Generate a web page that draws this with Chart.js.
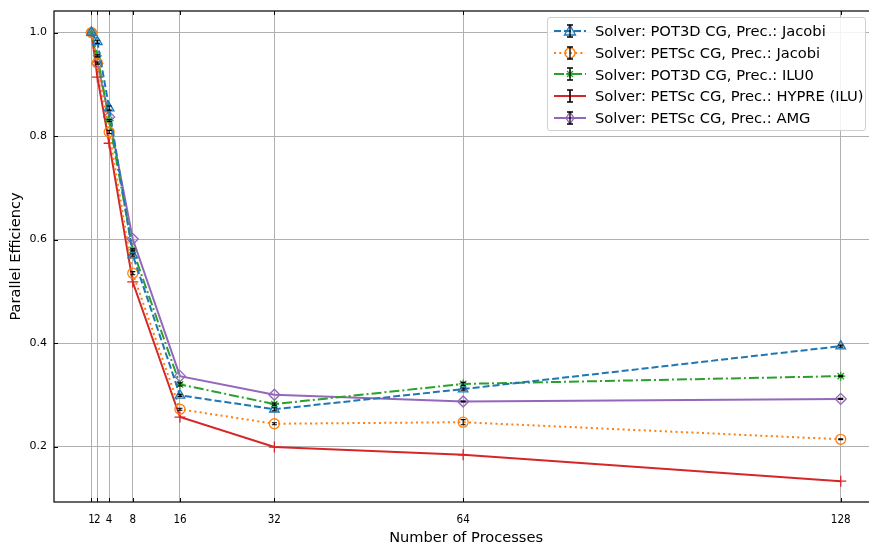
<!DOCTYPE html>
<html>
<head>
<meta charset="utf-8">
<script src="https://cdn.jsdelivr.net/npm/chart.js@4.4.0/dist/chart.umd.min.js"></script>
<style>
  html, body { margin: 0; padding: 0; background: #fff; }
  #wrap { position: relative; width: 869px; height: 545px; overflow: hidden; }
  #chart { position: absolute; left: 0; top: 0; }
  #legend {
    position: absolute; left: 547px; top: 17px; width: 319px; height: 114px;
    box-sizing: border-box; border: 1px solid #d0d0d0; border-radius: 3px;
    background: rgba(255,255,255,0.85);
    font-family: "DejaVu Sans", sans-serif; font-size: 14.7px; color: #000;
    padding-top: 2px;
  }
  .row { display: flex; align-items: center; height: 21.7px; white-space: nowrap; }
  .row svg { margin-left: 4px; margin-right: 7px; flex: none; }
</style>
</head>
<body>
<div id="wrap">
  <canvas id="chart" width="885" height="545"></canvas>
  <div id="legend"></div>
</div>
<script>
const procs = [1, 2, 4, 8, 16, 32, 64, 128];
const xTicks = [1, 2, 4, 8, 16, 32, 64, 128];
const yTicks = [0.2, 0.4, 0.6, 0.8, 1.0];

const labels = [
  'Solver: POT3D CG, Prec.: Jacobi',
  'Solver: PETSc CG, Prec.: Jacobi',
  'Solver: POT3D CG, Prec.: ILU0',
  'Solver: PETSc CG, Prec.: HYPRE (ILU)',
  'Solver: PETSc CG, Prec.: AMG',
];

const pot3dJacobi = [1.0, 0.982, 0.854, 0.570, 0.299, 0.272, 0.311, 0.394];
const petscJacobi = [1.0, 0.941, 0.808, 0.535, 0.272, 0.244, 0.247, 0.214];
const pot3dIlu0   = [1.0, 0.955, 0.830, 0.580, 0.320, 0.282, 0.321, 0.336];
const petscHypre  = [1.0, 0.914, 0.786, 0.518, 0.257, 0.199, 0.184, 0.133];
const petscAmg    = [1.0, 0.940, 0.837, 0.601, 0.336, 0.300, 0.287, 0.292];

// small standard deviations shown as black error bars
const errPot3dJacobi = [0, 0.003, 0.004, 0.002, 0.002, 0.003, 0.002, 0.002];
const errPetscJacobi = [0, 0.002, 0.003, 0.003, 0.002, 0.002, 0.005, 0.001];
const errPot3dIlu0   = [0, 0.002, 0.002, 0.002, 0.003, 0.002, 0.003, 0.001];
const errPetscHypre  = [0, 0, 0, 0, 0, 0, 0, 0];
const errPetscAmg    = [0, 0, 0, 0, 0, 0, 0.001, 0.001];

const styles = [
  { color: '#1f77b4', fill: 'rgba(31,119,180,0.15)', dash: [7, 3], marker: 'triangle', r: 5.5 },
  { color: '#ff7f0e', fill: 'rgba(255,255,255,0)', dash: [2, 3.3], marker: 'circle', r: 5 },
  { color: '#2ca02c', fill: 'rgba(44,160,44,0.15)', dash: [10, 3, 2, 3], marker: 'star', r: 4.5 },
  { color: '#d62728', fill: 'rgba(214,39,40,0)', dash: [], marker: 'cross', r: 5.5 },
  { color: '#9467bd', fill: 'rgba(148,103,189,0.1)', dash: [], marker: 'rectRot', r: 5.5 },
];

const series = [pot3dJacobi, petscJacobi, pot3dIlu0, petscHypre, petscAmg];
const errors = [errPot3dJacobi, errPetscJacobi, errPot3dIlu0, errPetscHypre, errPetscAmg];

const datasets = series.map((vals, i) => ({
  label: labels[i],
  data: procs.map((p, j) => ({ x: p, y: vals[j] })),
  borderColor: styles[i].color,
  backgroundColor: styles[i].fill,
  borderDash: styles[i].dash,
  borderWidth: 2,
  pointStyle: styles[i].marker,
  pointRadius: styles[i].r,
  pointBorderWidth: 1.3,
  pointBorderColor: styles[i].color,
  pointBackgroundColor: styles[i].fill,
  tension: 0,
  fill: false,
}));

const frame = {
  id: 'frame',
  afterDatasetsDraw(chart) {
    const { ctx, chartArea: a, scales } = chart;
    ctx.save();
    // error bars
    ctx.strokeStyle = '#000';
    ctx.lineWidth = 1.1;
    series.forEach((vals, i) => {
      procs.forEach((p, j) => {
        if (!errors[i][j]) return;
        const x = scales.x.getPixelForValue(p);
        const y1 = scales.y.getPixelForValue(vals[j] - errors[i][j]);
        const y2 = scales.y.getPixelForValue(vals[j] + errors[i][j]);
        ctx.beginPath();
        ctx.moveTo(x, y1); ctx.lineTo(x, y2);
        ctx.moveTo(x - 2.5, y1); ctx.lineTo(x + 2.5, y1);
        ctx.moveTo(x - 2.5, y2); ctx.lineTo(x + 2.5, y2);
        ctx.stroke();
      });
    });
    // inward ticks
    ctx.lineWidth = 1;
    xTicks.forEach(t => {
      const x = Math.round(scales.x.getPixelForValue(t)) + 0.5;
      ctx.beginPath(); ctx.moveTo(x, a.bottom); ctx.lineTo(x, a.bottom - 4); ctx.stroke();
      ctx.beginPath(); ctx.moveTo(x, a.top); ctx.lineTo(x, a.top + 4); ctx.stroke();
    });
    yTicks.forEach(t => {
      const y = Math.round(scales.y.getPixelForValue(t)) + 0.5;
      ctx.beginPath(); ctx.moveTo(a.left, y); ctx.lineTo(a.left + 4, y); ctx.stroke();
      ctx.beginPath(); ctx.moveTo(a.right, y); ctx.lineTo(a.right - 4, y); ctx.stroke();
    });
    ctx.lineWidth = 1.2;
    ctx.strokeRect(a.left, a.top, a.right - a.left, a.bottom - a.top);
    ctx.restore();
  }
};

new Chart(document.getElementById('chart').getContext('2d'), {
  type: 'line',
  data: { datasets },
  options: {
    responsive: false,
    animation: false,
    layout: { padding: { top: 11, right: 0, left: 0, bottom: 0 } },
    plugins: { legend: { display: false }, tooltip: { enabled: false } },
    scales: {
      x: {
        type: 'linear',
        min: -5.35,
        max: 134.35,
        afterBuildTicks: s => { s.ticks = xTicks.map(v => ({ value: v })); },
        afterFit: s => { s.height = 43; s.paddingLeft = 0; s.paddingRight = 0; },
        ticks: {
          autoSkip: false, maxRotation: 0, padding: 11, color: '#000',
          font: { family: 'DejaVu Sans Condensed', size: 11.5 },
          callback: v => String(v),
        },
        grid: { color: '#b0b0b0', lineWidth: 1, drawTicks: false },
        border: { display: false },
        title: {
          display: true, text: 'Number of Processes', color: '#000',
          font: { family: 'DejaVu Sans', size: 14.6 }, padding: { top: 0, bottom: -2 },
        },
      },
      y: {
        min: 0.0928,
        max: 1.0416,
        afterBuildTicks: s => { s.ticks = yTicks.map(v => ({ value: v })); },
        afterFit: s => { s.width = 54; s.paddingTop = 0; s.paddingBottom = 0; },
        ticks: {
          padding: 7, color: '#000',
          font: { family: 'DejaVu Sans', size: 11 },
          callback: v => v.toFixed(1),
        },
        grid: { color: '#b0b0b0', lineWidth: 1, drawTicks: false },
        border: { display: false },
        title: {
          display: true, text: 'Parallel Efficiency', color: '#000',
          font: { family: 'DejaVu Sans', size: 14.6 }, padding: { top: 7, bottom: 4 },
        },
      },
    },
  },
  plugins: [frame],
});

// legend
function markerSvg(s) {
  const c = s.color, f = s.fill;
  if (s.marker === 'triangle') return `<polygon points="20,5 25.5,15 14.5,15" stroke="${c}" fill="${f}" stroke-width="1.3"/>`;
  if (s.marker === 'circle') return `<circle cx="20" cy="11" r="5" stroke="${c}" fill="none" stroke-width="1.5"/>`;
  if (s.marker === 'star') return `<path d="M20 7 L20 15 M16 11 L24 11 M17 8 L23 14 M23 8 L17 14" stroke="${c}" stroke-width="1.3"/>`;
  if (s.marker === 'cross') return `<path d="M20 5 L20 17 M14 11 L26 11" stroke="${c}" stroke-width="1.5"/>`;
  return `<polygon points="20,5 24,11 20,17 16,11" stroke="${c}" fill="${f}" stroke-width="1.3"/>`;
}
document.getElementById('legend').innerHTML = labels.map((lab, i) => {
  const s = styles[i];
  const dash = s.dash.length ? `stroke-dasharray="${s.dash.join(' ')}"` : '';
  return `<div class="row"><svg width="36" height="22" viewBox="2 0 36 22">
    <line x1="4" y1="11" x2="36" y2="11" stroke="${s.color}" stroke-width="2" ${dash}/>
    ${markerSvg(s)}
    <path d="M20 5 L20 17 M17 5 L23 5 M17 17 L23 17" stroke="#000" stroke-width="1.3"/>
  </svg><span>${lab}</span></div>`;
}).join('');
</script>
</body>
</html>
